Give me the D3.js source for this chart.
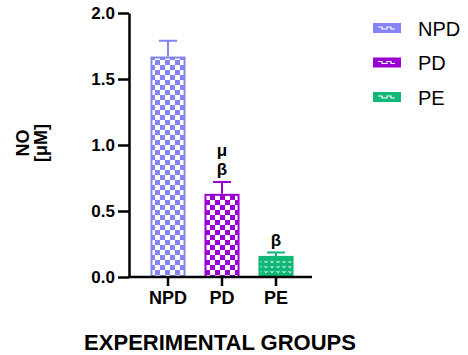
<!DOCTYPE html>
<html>
<head>
<meta charset="utf-8">
<script src="https://cdn.jsdelivr.net/npm/d3@7"></script>
<style>
  body { margin: 0; background: #fff; }
  svg { display: block; font-family: 'Liberation Sans', Arial, sans-serif; }
</style>
</head>
<body>
<script>
/* DATA */
const groups = ['NPD', 'PD', 'PE'];
const means = [1.67, 0.63, 0.16];
const errors = [0.12, 0.09, 0.025];
const marks = [[], ['μ', 'β'], ['β']];
const yTicks = [0, 0.5, 1.0, 1.5, 2.0];
const colors = ['#8484f4', '#9a00d4', '#10b878'];

const width = 468;
const height = 355;

const svg = d3.select('body')
  .append('svg')
  .attr('width', width)
  .attr('height', height);

/* patterns */
const defs = svg.append('defs');
const checker = (id, color, size) => {
  const p = defs.append('pattern')
    .attr('id', id)
    .attr('patternUnits', 'userSpaceOnUse')
    .attr('width', size * 2)
    .attr('height', size * 2);
  p.append('rect').attr('width', size * 2).attr('height', size * 2).attr('fill', color);
  p.append('rect').attr('width', size).attr('height', size).attr('fill', '#fff');
  p.append('rect').attr('x', size).attr('y', size).attr('width', size).attr('height', size).attr('fill', '#fff');
};
checker('pat0', colors[0], 5);
checker('pat1', colors[1], 5);

const dots = defs.append('pattern')
  .attr('id', 'pat2')
  .attr('patternUnits', 'userSpaceOnUse')
  .attr('width', 6)
  .attr('height', 5);
dots.append('rect').attr('width', 6).attr('height', 5).attr('fill', colors[2]);
dots.append('path')
  .attr('d', 'M 0.5 1 l 1.5 1.8 l 1.5 -1.8')
  .attr('fill', 'none')
  .attr('stroke', '#fff')
  .attr('stroke-width', 1);

/* scales */
const yScale = d3.scaleLinear()
  .domain([0, 2])
  .range([277, 13]);

const xScale = d3.scaleBand()
  .domain(groups)
  .range([141, 303])
  .paddingInner(0.35)
  .paddingOuter(0.175);

/* bars */
const bars = svg.append('g');
bars.selectAll('rect')
  .data(groups)
  .join('rect')
  .attr('x', d => xScale(d) + 1)
  .attr('y', (d, i) => yScale(means[i]) + 1)
  .attr('width', xScale.bandwidth() - 2)
  .attr('height', (d, i) => yScale(0) - yScale(means[i]) - 1)
  .attr('fill', (d, i) => `url(#pat${i})`)
  .attr('stroke', (d, i) => colors[i])
  .attr('stroke-width', 2);

/* error bars */
const err = svg.append('g').attr('fill', 'none').attr('stroke-width', 2);
groups.forEach((g, i) => {
  const cx = xScale(g) + xScale.bandwidth() / 2;
  err.append('path')
    .attr('d', `M ${cx} ${yScale(means[i])} V ${yScale(means[i] + errors[i])} M ${cx - 9} ${yScale(means[i] + errors[i])} h 18`)
    .attr('stroke', colors[i]);
  marks[i].forEach((m, j) => {
    svg.append('text')
      .attr('x', cx)
      .attr('y', yScale(means[i] + errors[i]) - 7 - (marks[i].length - 1 - j) * 19)
      .attr('text-anchor', 'middle')
      .attr('font-size', 17)
      .attr('font-weight', 'bold')
      .text(m);
  });
});

/* axes */
const yAxis = d3.axisLeft(yScale)
  .tickValues(yTicks)
  .tickFormat(d3.format('.1f'))
  .tickSize(11)
  .tickSizeOuter(0)
  .tickPadding(3);

const yG = svg.append('g')
  .attr('transform', 'translate(129 0)')
  .call(yAxis);
yG.selectAll('line, path').attr('stroke', '#000').attr('stroke-width', 2.5);
yG.selectAll('text')
  .attr('font-size', 17)
  .attr('font-weight', 'bold')
  .attr('font-family', 'Liberation Sans, Arial, sans-serif')
  .attr('fill', '#000');

const xAxis = d3.axisBottom(xScale)
  .tickSize(9)
  .tickSizeOuter(0)
  .tickPadding(5);

const xG = svg.append('g')
  .attr('transform', 'translate(0 277)')
  .call(xAxis);
xG.select('.domain').attr('d', 'M 128 0 H 312');
xG.selectAll('line, path').attr('stroke', '#000').attr('stroke-width', 2.5);
xG.selectAll('text')
  .attr('font-size', 18)
  .attr('font-weight', 'bold')
  .attr('font-family', 'Liberation Sans, Arial, sans-serif')
  .attr('fill', '#000');

/* axis titles */
const yTitle = svg.append('text')
  .attr('transform', 'translate(0 143) rotate(-90)')
  .attr('text-anchor', 'middle')
  .attr('font-size', 18)
  .attr('font-weight', 'bold');
yTitle.append('tspan').attr('x', 0).attr('y', 29).text('NO');
yTitle.append('tspan').attr('x', 0).attr('y', 47).text('[μM]');

svg.append('text')
  .attr('x', 220)
  .attr('y', 350)
  .attr('text-anchor', 'middle')
  .attr('font-size', 22)
  .attr('font-weight', 'bold')
  .text('EXPERIMENTAL GROUPS');

/* legend */
const legend = svg.append('g');
groups.forEach((g, i) => {
  const y = 28 + i * 34.5;
  legend.append('rect')
    .attr('x', 373)
    .attr('y', y - 5)
    .attr('width', 28)
    .attr('height', 10)
    .attr('fill', colors[i]);
  legend.append('path')
    .attr('d', `M 378 ${y - 1} h 4 v 2 h 5 v -2 h 4 v 2 h 4`)
    .attr('fill', 'none')
    .attr('stroke', '#fff')
    .attr('stroke-width', 1.2);
  legend.append('text')
    .attr('x', 418)
    .attr('y', y + 7.5)
    .attr('font-size', 20)
    .text(g);
});
</script>
</body>
</html>
